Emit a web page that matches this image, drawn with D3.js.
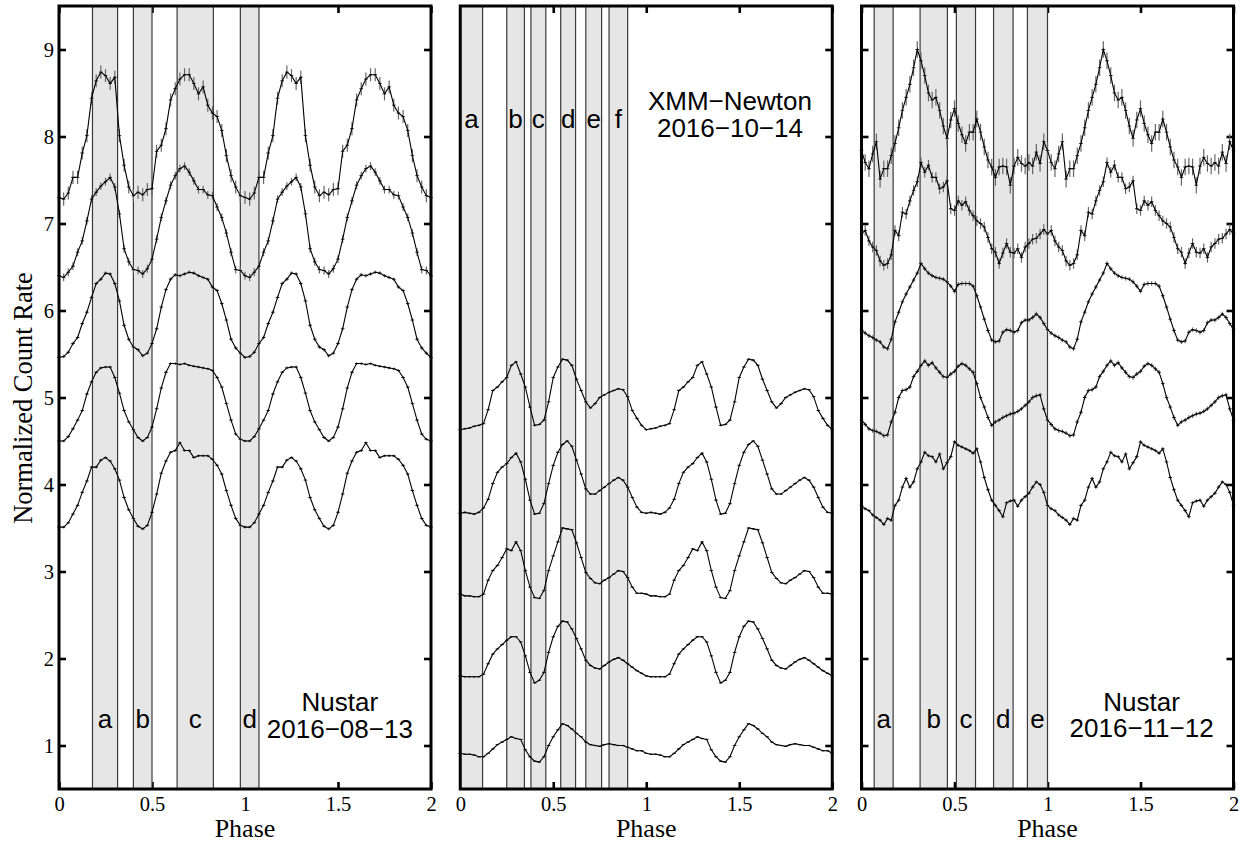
<!DOCTYPE html>
<html>
<head>
<meta charset="utf-8">
<script src="https://cdn.jsdelivr.net/npm/d3@7"></script>
<style>
  body { margin: 0; background: #fff; }
  svg { display: block; }
</style>
</head>
<body>
<div id="chart"></div>
<script>
// folded light curves, one cycle each (shown twice, phase 0-2)
// Nustar 2016-08-13, 40 bins
var aug1 = [3.51,3.51,3.56,3.66,3.76,3.91,4.04,4.20,4.20,4.28,4.31,4.27,4.18,4.05,3.85,3.71,3.61,3.52,3.49,3.53,3.68,3.89,4.13,4.27,4.37,4.39,4.48,4.39,4.39,4.31,4.33,4.33,4.33,4.29,4.22,4.12,3.93,3.76,3.61,3.53];
var aug2 = [4.50,4.50,4.55,4.64,4.74,4.85,5.04,5.18,5.29,5.34,5.35,5.35,5.23,5.05,4.85,4.72,4.63,4.54,4.50,4.54,4.66,4.87,5.11,5.29,5.39,5.39,5.38,5.39,5.37,5.36,5.35,5.34,5.33,5.31,5.23,5.12,4.93,4.74,4.58,4.52];
var aug3 = [5.46,5.47,5.52,5.62,5.69,5.85,5.98,6.15,6.31,6.36,6.43,6.42,6.31,6.11,5.83,5.67,5.58,5.55,5.48,5.51,5.62,5.79,6.04,6.24,6.36,6.41,6.40,6.42,6.44,6.43,6.40,6.38,6.36,6.27,6.23,6.08,5.89,5.67,5.57,5.51];
var aug4 = [6.40,6.38,6.44,6.51,6.67,6.80,7.03,7.28,7.36,7.43,7.48,7.53,7.42,7.11,6.71,6.56,6.47,6.46,6.42,6.48,6.59,6.82,7.07,7.26,7.44,7.55,7.63,7.66,7.59,7.49,7.39,7.39,7.33,7.32,7.19,7.07,6.89,6.67,6.47,6.46];
var aug5 = [7.30,7.28,7.35,7.53,7.53,7.81,8.01,8.44,8.64,8.74,8.70,8.61,8.68,8.01,7.67,7.42,7.32,7.36,7.33,7.39,7.40,7.83,7.90,8.09,8.42,8.55,8.66,8.71,8.71,8.61,8.49,8.57,8.36,8.27,8.23,8.07,7.78,7.55,7.42,7.32];
var augErr = [0.015, 0.015, 0.02, 0.045, 0.075];

// XMM-Newton 2016-10-14, 40 bins
var xmm1 = [0.91,0.90,0.90,0.89,0.87,0.87,0.91,0.96,1.01,1.04,1.07,1.10,1.08,1.07,0.95,0.87,0.82,0.81,0.87,1.00,1.10,1.18,1.25,1.23,1.19,1.14,1.10,1.04,1.01,1.00,0.99,1.01,1.02,1.01,1.00,1.00,0.98,0.96,0.94,0.94];
var xmm2 = [1.80,1.79,1.79,1.79,1.79,1.82,1.94,2.05,2.11,2.16,2.21,2.25,2.25,2.19,2.03,1.84,1.72,1.75,1.84,2.07,2.25,2.37,2.43,2.42,2.34,2.23,2.11,1.98,1.92,1.89,1.88,1.92,1.96,1.99,2.01,1.98,1.94,1.90,1.86,1.83];
var xmm3 = [2.74,2.72,2.72,2.71,2.71,2.74,2.90,3.01,3.07,3.16,3.26,3.24,3.34,3.24,3.01,2.82,2.70,2.69,2.78,3.01,3.18,3.34,3.50,3.49,3.48,3.33,3.16,2.99,2.92,2.87,2.86,2.90,2.93,2.97,3.01,3.00,2.93,2.82,2.75,2.75];
var xmm4 = [3.67,3.68,3.67,3.66,3.68,3.73,3.83,4.01,4.14,4.20,4.24,4.31,4.36,4.26,4.06,3.82,3.66,3.67,3.78,4.01,4.22,4.37,4.46,4.50,4.44,4.28,4.12,3.95,3.89,3.89,3.93,3.97,4.01,4.05,4.08,4.05,3.97,3.85,3.74,3.68];
var xmm5 = [4.63,4.64,4.65,4.67,4.68,4.70,4.86,5.08,5.12,5.18,5.23,5.37,5.41,5.27,5.12,4.89,4.68,4.69,4.74,4.95,5.23,5.35,5.44,5.43,5.37,5.21,5.08,4.95,4.88,4.93,5.00,5.03,5.06,5.08,5.10,5.09,5.01,4.85,4.76,4.68];
var xmmErr = [0.008, 0.01, 0.01, 0.012, 0.012];

// Nustar 2016-11-12, 50 bins
var nov1 = [3.76,3.72,3.70,3.65,3.62,3.59,3.54,3.61,3.59,3.76,3.82,3.97,4.07,3.97,4.03,4.18,4.26,4.37,4.33,4.32,4.26,4.35,4.18,4.25,4.32,4.49,4.45,4.43,4.41,4.39,4.36,4.41,4.26,4.08,3.94,3.82,3.76,3.70,3.63,3.79,3.81,3.82,3.75,3.82,3.86,3.90,3.97,4.03,4.00,3.91];
var nov2 = [4.74,4.69,4.64,4.62,4.61,4.59,4.56,4.57,4.72,4.83,5.00,5.08,5.09,5.12,5.24,5.30,5.37,5.42,5.37,5.40,5.34,5.29,5.24,5.23,5.27,5.30,5.36,5.39,5.37,5.33,5.29,5.16,5.00,4.89,4.77,4.68,4.72,4.74,4.77,4.79,4.81,4.82,4.84,4.87,4.91,4.95,5.00,5.02,5.03,4.87];
var nov3 = [5.78,5.74,5.71,5.69,5.66,5.64,5.58,5.56,5.67,5.87,5.98,6.10,6.19,6.27,6.35,6.43,6.54,6.48,6.43,6.40,6.38,6.37,6.36,6.33,6.28,6.22,6.30,6.31,6.31,6.31,6.28,6.17,6.04,5.90,5.77,5.66,5.64,5.65,5.75,5.78,5.77,5.75,5.77,5.86,5.89,5.89,5.92,5.96,5.92,5.85];
var nov4 = [6.88,6.92,6.80,6.73,6.69,6.57,6.52,6.54,6.64,6.92,6.86,7.13,7.11,7.26,7.38,7.48,7.70,7.59,7.67,7.53,7.53,7.40,7.42,7.49,7.17,7.15,7.26,7.21,7.25,7.15,7.09,7.03,7.00,6.96,6.84,6.71,6.67,6.54,6.66,6.77,6.67,6.66,6.71,6.61,6.73,6.77,6.82,6.83,6.88,6.93];
var nov5 = [7.84,7.70,7.63,7.80,7.94,7.51,7.63,7.63,7.78,7.92,8.10,8.30,8.45,8.60,8.79,9.00,8.87,8.70,8.50,8.42,8.45,8.30,8.12,7.98,8.19,8.32,8.15,8.02,7.92,8.05,8.05,8.20,8.05,7.88,7.73,7.65,7.53,7.65,7.66,7.65,7.44,7.66,7.76,7.69,7.66,7.70,7.66,7.82,7.69,7.94];
var novErr = [0.02, 0.025, 0.025, 0.06, 0.095];

// phase intervals [start, end, label]
var augBands = [[0.18, 0.315, "a"], [0.40, 0.50, "b"], [0.635, 0.83, "c"], [0.975, 1.075, "d"]];
var xmmBands = [[0, 0.12, "a"], [0.25, 0.345, "b"], [0.38, 0.46, "c"], [0.54, 0.62, "d"], [0.675, 0.76, "e"], [0.80, 0.90, "f"]];
var novBands = [[0.068, 0.17, "a"], [0.315, 0.462, "b"], [0.51, 0.613, "c"], [0.71, 0.815, "d"], [0.892, 1.0, "e"]];

var yTicks = [1, 2, 3, 4, 5, 6, 7, 8, 9];
var xTicks = [0, 0.5, 1, 1.5, 2];

var width = 1251, height = 844,
    panelW = 372, plotTop = 6, plotBottom = 789,
    lefts = [59, 460.25, 861.5],
    serif = "'Liberation Serif', 'Times New Roman', serif",
    sans = "'Liberation Sans', Arial, Helvetica, sans-serif";

var panels = [
    {curves: [aug1, aug2, aug3, aug4, aug5], errs: augErr, bands: augBands,
     title: ["Nustar", "2016\u221208\u221213"], tx: 1.51, ty: [1.40, 1.09], letterY: 1.20, yLabels: true},
    {curves: [xmm1, xmm2, xmm3, xmm4, xmm5], errs: xmmErr, bands: xmmBands,
     title: ["XMM\u2212Newton", "2016\u221210\u221214"], tx: 1.45, ty: [8.31, 8.00], letterY: 8.10, yLabels: false},
    {curves: [nov1, nov2, nov3, nov4, nov5], errs: novErr, bands: novBands,
     title: ["Nustar", "2016\u221211\u221212"], tx: 1.506, ty: [1.40, 1.10], letterY: 1.20, yLabels: false}
];

var svg = d3.select("#chart").append("svg")
    .attr("width", width)
    .attr("height", height);

var y = d3.scaleLinear().domain([0.5, 9.5]).range([plotBottom, plotTop]);
var x = d3.scaleLinear().domain([0, 2]).range([0, panelW]);

panels.forEach(function(p, k) {
    var g = svg.append("g").attr("transform", "translate(" + lefts[k] + ",0)");

    // ticks first, the shaded bands sit over them
    var axL = d3.axisLeft(y).tickValues(yTicks).tickSize(-7).tickPadding(5)
        .tickFormat(p.yLabels ? d3.format("d") : "");
    var axR = d3.axisRight(y).tickValues(yTicks).tickSize(-7).tickFormat("");
    var axB = d3.axisBottom(x).tickValues(xTicks).tickSize(-7).tickPadding(7)
        .tickFormat(function(d) { return d; });
    var axT = d3.axisTop(x).tickValues(xTicks).tickSize(-7).tickFormat("");

    [[axL, "translate(0,0)"], [axR, "translate(" + panelW + ",0)"],
     [axB, "translate(0," + plotBottom + ")"], [axT, "translate(0," + plotTop + ")"]].forEach(function(a) {
        var ag = g.append("g").attr("transform", a[1]).call(a[0]);
        ag.select(".domain").remove();
        ag.selectAll("line").attr("stroke", "#000").attr("stroke-width", 2.6);
        ag.selectAll("text").attr("font-family", serif).attr("font-size", "20.5px").attr("fill", "#000");
    });

    g.selectAll("rect.band").data(p.bands).enter()
        .append("rect")
        .attr("class", "band")
        .attr("x", function(d) { return x(d[0]); })
        .attr("y", plotTop)
        .attr("width", function(d) { return x(d[1]) - x(d[0]); })
        .attr("height", plotBottom - plotTop)
        .attr("fill", "#e6e6e6")
        .attr("stroke", "#3a3a3a")
        .attr("stroke-width", 1.2);

    p.curves.forEach(function(c, j) {
        var n = c.length, err = p.errs[j];
        var pts = d3.range(2 * n + 1).map(function(i) {
            return {p: i / n, v: c[i % n]};
        });
        var cg = g.append("g");
        cg.selectAll("line.err").data(pts).enter()
            .append("line")
            .attr("x1", function(d) { return x(d.p); })
            .attr("x2", function(d) { return x(d.p); })
            .attr("y1", function(d) { return y(d.v - err); })
            .attr("y2", function(d) { return y(d.v + err); })
            .attr("stroke", "#666")
            .attr("stroke-width", 1.2);
        cg.selectAll("line.bin").data(pts).enter()
            .append("line")
            .attr("x1", function(d) { return x(d.p) - 1.8; })
            .attr("x2", function(d) { return x(d.p) + 1.8; })
            .attr("y1", function(d) { return y(d.v); })
            .attr("y2", function(d) { return y(d.v); })
            .attr("stroke", "#222")
            .attr("stroke-width", 1);
        cg.append("path")
            .datum(pts)
            .attr("fill", "none")
            .attr("stroke", "#000")
            .attr("stroke-width", 1.1)
            .attr("d", d3.line().x(function(d) { return x(d.p); }).y(function(d) { return y(d.v); }));
    });

    g.append("rect")
        .attr("x", 0).attr("y", plotTop)
        .attr("width", panelW).attr("height", plotBottom - plotTop)
        .attr("fill", "none")
        .attr("stroke", "#000")
        .attr("stroke-width", 3);

    g.selectAll("text.letter").data(p.bands).enter()
        .append("text")
        .attr("x", function(d) { return x((d[0] + d[1]) / 2); })
        .attr("y", y(p.letterY))
        .attr("text-anchor", "middle")
        .attr("font-family", sans)
        .attr("font-size", "26px")
        .text(function(d) { return d[2]; });

    p.title.forEach(function(t, i) {
        g.append("text")
            .attr("x", x(p.tx))
            .attr("y", y(p.ty[i]))
            .attr("text-anchor", "middle")
            .attr("font-family", sans)
            .attr("font-size", "26px")
            .text(t);
    });

    g.append("text")
        .attr("x", panelW / 2)
        .attr("y", 837)
        .attr("text-anchor", "middle")
        .attr("font-family", serif)
        .attr("font-size", "26px")
        .text("Phase");
});

svg.append("text")
    .attr("transform", "translate(32,398) rotate(-90)")
    .attr("text-anchor", "middle")
    .attr("font-family", serif)
    .attr("font-size", "26.5px")
    .text("Normalized Count Rate");
</script>
</body>
</html>
